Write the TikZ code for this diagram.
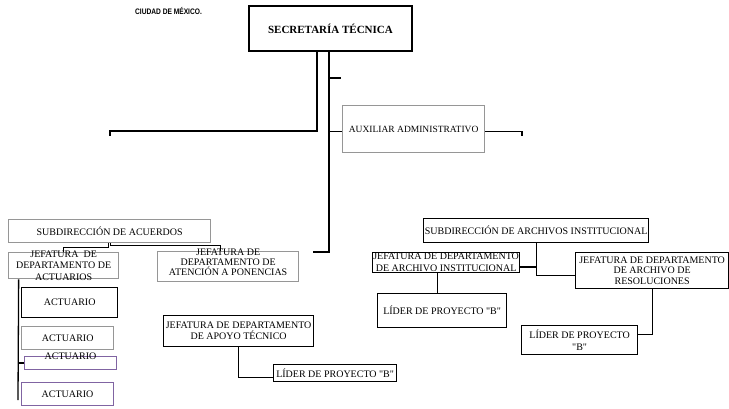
\documentclass[tikz,border=0pt]{standalone}
\usepackage{fontspec}
\setmainfont{Liberation Serif}
\newfontfamily\citysans[FakeStretch=0.83]{Liberation Sans}
\usetikzlibrary{positioning}

\definecolor{boxgray}{RGB}{150,150,150}
\definecolor{boxpurple}{RGB}{128,100,162}

\tikzset{
  wh/.style 2 args={minimum width=#1pt, minimum height=#2pt},
  unit/.style={rectangle, anchor=north west, inner sep=0pt, line width=1.3pt},
  post/.style={unit, draw=black},
  staff/.style={unit, draw=boxgray},
  actpost/.style={unit, draw=boxpurple, line width=1pt},
  head/.style={unit, draw=black, line width=1.9pt, font=\bfseries\fontsize{11}{13}\selectfont},
  lbl/.style={font=\fontsize{10}{11.5}\selectfont, align=center, inner sep=0pt},
  link/.style={line width=1.3pt},
  spine/.style={line width=2.3pt}
}

\begin{document}
\begin{tikzpicture}[x=1pt, y=-1pt]
  \useasboundingbox (0,0) rectangle (729,408);

  % Heading
  \node[font=\citysans\bfseries\fontsize{8}{9}\selectfont] (city) at (168.5,11) {CIUDAD DE MÉXICO.};

  % Top of the chart
  \node[head, wh={163}{45}] (sec) at (248,5) {SECRETARÍA TÉCNICA};
  \node[staff, wh={142}{47}, label={[lbl, font=\fontsize{9.5}{11}\selectfont]center:AUXILIAR ADMINISTRATIVO}] (aux) at (342,105) {};

  % Subdireccion de acuerdos
  \node[staff, wh={202}{23}, label={[lbl]center:SUBDIRECCIÓN DE ACUERDOS}] (sacu) at (8,219) {};
  \node[staff, wh={110}{26}, label={[lbl]center:JEFATURA\ \ DE\\DEPARTAMENTO DE\\ACTUARIOS}] (jact) at (8,252) {};
  \node[staff, wh={141}{30}, label={[lbl, font=\fontsize{10}{10}\selectfont, yshift=4pt]center:JEFATURA DE\\DEPARTAMENTO DE\\ATENCIÓN A PONENCIAS}] (jpon) at (157,251) {};
  \node[post, wh={150}{31}, label={[lbl, font=\fontsize{10}{11}\selectfont]center:JEFATURA DE DEPARTAMENTO\\DE APOYO TÉCNICO}] (jtec) at (163,315) {};
  \node[post, wh={123}{17}, label={[lbl]center:LÍDER DE PROYECTO \textquotedbl B\textquotedbl}] (ltec) at (273,364) {};

  % Actuarios
  \node[post, wh={96}{30}, label={[lbl]center:ACTUARIO}] (act1) at (21,287) {};
  \node[staff, wh={92}{23}, label={[lbl]center:ACTUARIO}] (act2) at (21,326) {};
  \node[actpost, wh={92}{13}, label={[lbl, yshift=7pt]center:ACTUARIO}] (act3) at (24,356) {};
  \node[actpost, wh={92}{23}, label={[lbl]center:ACTUARIO}] (act4) at (21,382) {};

  % Subdireccion de archivos
  \node[post, wh={225}{24}, label={[lbl]center:SUBDIRECCIÓN DE ARCHIVOS INSTITUCIONAL}] (sarc) at (423,218) {};
  \node[post, wh={147}{20}, label={[lbl, font=\fontsize{10}{12}\selectfont]center:JEFATURA DE DEPARTAMENTO\\DE ARCHIVO INSTITUCIONAL}] (jarc) at (372,252) {};
  \node[post, wh={153}{36}, label={[lbl, font=\fontsize{10}{10.5}\selectfont]center:JEFATURA DE DEPARTAMENTO\\DE ARCHIVO DE\\RESOLUCIONES}] (jres) at (575,252) {};
  \node[post, wh={129}{34}, label={[lbl]center:LÍDER DE PROYECTO \textquotedbl B\textquotedbl}] (larc) at (377,293) {};
  \node[post, wh={116}{29}, label={[lbl, font=\fontsize{10}{12}\selectfont]center:LÍDER DE PROYECTO\\\textquotedbl B\textquotedbl}] (lres) at (521,325) {};

  % Link ends
  \coordinate (spine) at ([xshift=-1.5pt]sec.south);
  \coordinate (lend) at (110,136);
  \coordinate (rend) at (522,136);
  \coordinate (cend) at (313,252);
  \coordinate (tick) at (341,78);
  \coordinate (auxlink) at ([yshift=-2.5pt]aux.west);
  \coordinate (actend) at (18,400);
  \coordinate (arcjoin) at (535.5,267);

  % Links from the top
  \draw[link] ([xshift=-13.5pt]sec.south) |- ([yshift=5pt]lend) -- (lend);
  \draw[spine] (spine) |- (cend);
  \draw[link] (spine |- tick) -- (tick);
  \draw[link] (spine |- auxlink) -- (auxlink);
  \draw[link] (auxlink -| aux.east) -| (rend);

  % Links on the left
  \draw[link] ([xshift=-1pt]sacu.south) -- ++(0,4) -| (jact.north);
  \draw[link] ([xshift=1pt]sacu.south) -- ++(0,2) -| ([xshift=-7.5pt]jpon.north);
  \draw[link] ([xshift=-45pt]jact.south) -- (actend);
  \draw[link] (act3.west) -- (act3.west -| actend);
  \draw[link] (jtec.south) |- ([yshift=-4.5pt]ltec.west);

  % Links on the right
  \draw[link] (sarc.south) |- ([yshift=-5pt]jres.west);
  \draw[link] (arcjoin) -- (arcjoin -| jarc.east);
  \draw[link] ([xshift=-8.5pt]jarc.south) -- ([xshift=-4.5pt]larc.north);
  \draw[link] (jres.south) |- ([yshift=5.5pt]lres.east);

\end{tikzpicture}
\end{document}
